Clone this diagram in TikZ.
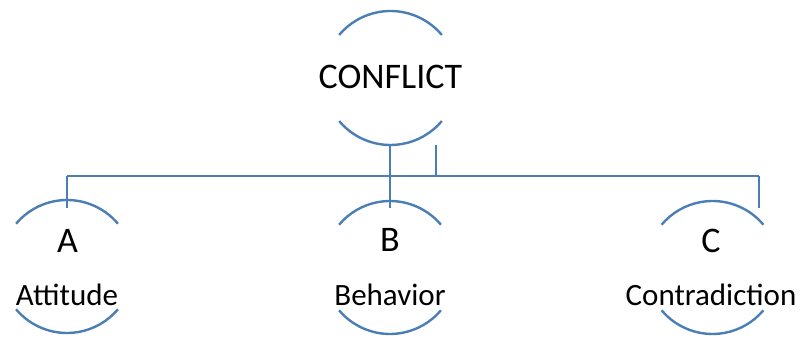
\documentclass[tikz,border=0pt]{standalone}
\usepackage{fontspec}
\setmainfont{Carlito}
\definecolor{lineblue}{RGB}{74,126,180}
\begin{document}
\begin{tikzpicture}[x=1pt,y=1pt,
  ring/.style={circle,draw=none,inner sep=0pt,minimum size=#1},
  arcline/.style={draw=lineblue,line width=2.4pt},
  conn/.style={draw=lineblue,line width=2.4pt},
  bigtxt/.style={font=\fontsize{36}{40}\selectfont,anchor=base,inner sep=0pt},
  midtxt/.style={font=\fontsize{31}{36}\selectfont,anchor=base,inner sep=0pt}]
\useasboundingbox (0,0) rectangle (802,337);
% circles (invisible nodes)
\node[ring=134pt] (conflict) at (390.5,259) {};
\node[ring=133pt] (a) at (67,70.5) {};
\node[ring=133pt] (b) at (390,69.5) {};
\node[ring=133pt] (c) at (712.5,69.5) {};
% arcs
\foreach \n/\r in {conflict/67,a/66.5,b/66.5,c/66.5}{
  \draw[arcline] ([shift={(40:\r pt)}]\n.center) arc[start angle=40,end angle=140,radius=\r pt];
  \draw[arcline] ([shift={(220:\r pt)}]\n.center) arc[start angle=220,end angle=320,radius=\r pt];
}
% texts
\node[bigtxt] (tconf) at (390.5,248) {CONFLICT};
\node[bigtxt] (ta) at (67.5,84) {A};
\node[bigtxt] (tb) at (390,85) {B};
\node[bigtxt] (tc) at (711,84) {C};
\node[midtxt] (tatt) at (67,31) {Attitude};
\node[midtxt] (tbeh) at (390,31) {Behavior};
\node[midtxt] (tcon) at (711,31) {Contradiction};
% connectors
\coordinate (busA) at (67,161);
\coordinate (busB) at (390,161);
\coordinate (busX) at (436,161);
\coordinate (busC) at (759,161);
\coordinate (endA) at (67,129);
\coordinate (endB) at (390,129);
\coordinate (endC) at (759,129);
\coordinate (topX) at (436,192);
\coordinate (topB) at (390,192);
\draw[conn] (busA) -- (busC);
\draw[conn] (busA) -- (endA);
\draw[conn] (topB) -- (endB);
\draw[conn] (topX) -- (busX);
\draw[conn] (busC) -- (endC);
\end{tikzpicture}
\end{document}
